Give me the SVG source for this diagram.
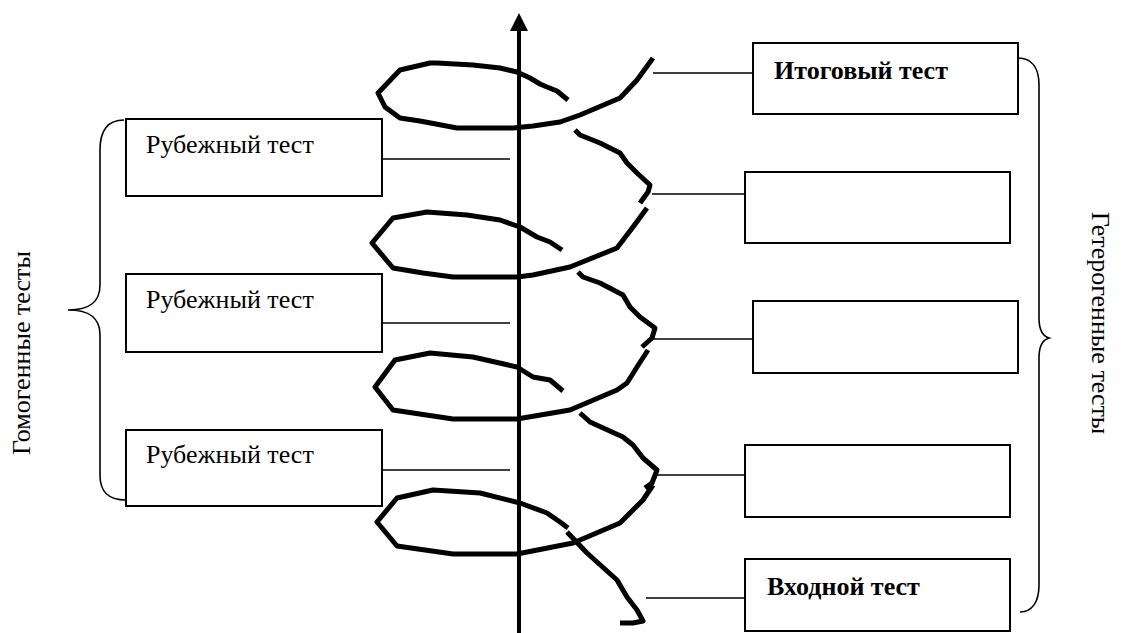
<svg xmlns="http://www.w3.org/2000/svg" width="1138" height="633" viewBox="0 0 1138 633">
  <style>
    .box { fill: #fff; stroke: #000; stroke-width: 2; }
    .lbl { font-family: "Liberation Serif", "Times New Roman", serif; font-size: 26px; fill: #000; }
    .bold { font-weight: bold; }
    .thin { fill: none; stroke: #000; stroke-width: 1.6; }
    .spiral { fill: none; stroke: #000; stroke-width: 5; stroke-linejoin: round; stroke-linecap: butt; }
  </style>
  <rect width="1138" height="633" fill="#fff"/>

  <!-- vertical axis with arrowhead -->
  <g id="axis">
    <line x1="519" y1="633" x2="519" y2="28" stroke="#000" stroke-width="4"/>
    <polygon points="519,13 510,31 528,31" fill="#000"/>
  </g>

  <!-- hand-drawn spiral around the axis -->
  <g id="spiral" class="spiral">
    <path d="M653,58 L637,80 L620,98 L580,115 L560,122 L533,126 L513,128 L457,128 L420,121 L400,118 L385,107 L378,93 L400,70 L430,63 L437,63 L473,65 L500,68 L517,72 L530,78 L540,84 L547,87 L557,91 L568,100"/>
    <path d="M575,130 L580,135 L600,143 L620,153 L627,163 L637,173 L650,185 L648,192 L640,203"/>
    <path d="M647,208 L633,227 L617,248 L570,267 L533,275 L517,277 L453,277 L423,273 L393,268 L372,243 L393,218 L427,212 L467,215 L500,220 L520,227 L537,237 L550,242 L562,250"/>
    <path d="M578,272 L583,277 L600,283 L623,295 L630,307 L640,317 L655,328 L652,338 L642,347"/>
    <path d="M648,350 L637,367 L627,383 L617,390 L570,410 L517,419 L453,419 L393,410 L375,387 L395,360 L430,353 L473,357 L517,367 L533,377 L550,380 L563,391"/>
    <path d="M580,413 L590,422 L623,437 L633,445 L643,458 L657,470 L652,483 L645,488"/>
    <path d="M653,485 L643,500 L620,523 L573,543 L517,554 L453,554 L397,546 L377,522 L397,498 L433,490 L480,493 L520,503 L547,513 L560,522 L568,528"/>
    <path d="M567,532 L587,553 L617,580 L627,597 L637,610 L643,621 L633,623 L620,623"/>
  </g>

  <!-- leader lines -->
  <g id="connectors" class="thin">
    <line x1="382" y1="159" x2="510" y2="159"/>
    <line x1="382" y1="323" x2="510" y2="323"/>
    <line x1="382" y1="470" x2="510" y2="470"/>
    <line x1="653" y1="73" x2="753" y2="73"/>
    <line x1="652" y1="194" x2="745" y2="194"/>
    <line x1="654" y1="339" x2="753" y2="339"/>
    <line x1="655" y1="475" x2="745" y2="475"/>
    <line x1="646" y1="598" x2="745" y2="598"/>
  </g>

  <!-- left column: milestone tests -->
  <g id="milestone-1">
    <rect class="box" x="126" y="119" width="256" height="77"/>
    <text class="lbl" x="146" y="153">Рубежный тест</text>
  </g>
  <g id="milestone-2">
    <rect class="box" x="126" y="274" width="256" height="78"/>
    <text class="lbl" x="146" y="308">Рубежный тест</text>
  </g>
  <g id="milestone-3">
    <rect class="box" x="126" y="430" width="256" height="76"/>
    <text class="lbl" x="146" y="463">Рубежный тест</text>
  </g>

  <!-- right column -->
  <g id="final-test">
    <rect class="box" x="753" y="43" width="265" height="71"/>
    <text class="lbl bold" x="774" y="79">Итоговый тест</text>
  </g>
  <g id="right-box-2">
    <rect class="box" x="745" y="172" width="265" height="71"/>
  </g>
  <g id="right-box-3">
    <rect class="box" x="753" y="301" width="265" height="72"/>
  </g>
  <g id="right-box-4">
    <rect class="box" x="745" y="445" width="265" height="72"/>
  </g>
  <g id="entry-test">
    <rect class="box" x="745" y="559" width="265" height="72"/>
    <text class="lbl bold" x="767" y="595">Входной тест</text>
  </g>

  <!-- braces and group captions -->
  <g id="homogeneous">
    <path class="thin" d="M124,120 C108,120 100,130 100,150 L100,285 C100,302 90,310 68,310 C90,310 100,318 100,335 L100,475 C100,492 108,500 126,500"/>
    <text class="lbl" transform="translate(30,353) rotate(-90)" text-anchor="middle">Гомогенные тесты</text>
  </g>
  <g id="heterogeneous">
    <path class="thin" d="M1018,58 C1032,58 1039,68 1039,85 L1039,318 C1039,330 1042,336 1049,338 C1042,340 1039,346 1039,358 L1039,585 C1039,602 1032,612 1020,612"/>
    <text class="lbl" transform="translate(1092,323) rotate(90)" text-anchor="middle">Гетерогенные тесты</text>
  </g>
</svg>
